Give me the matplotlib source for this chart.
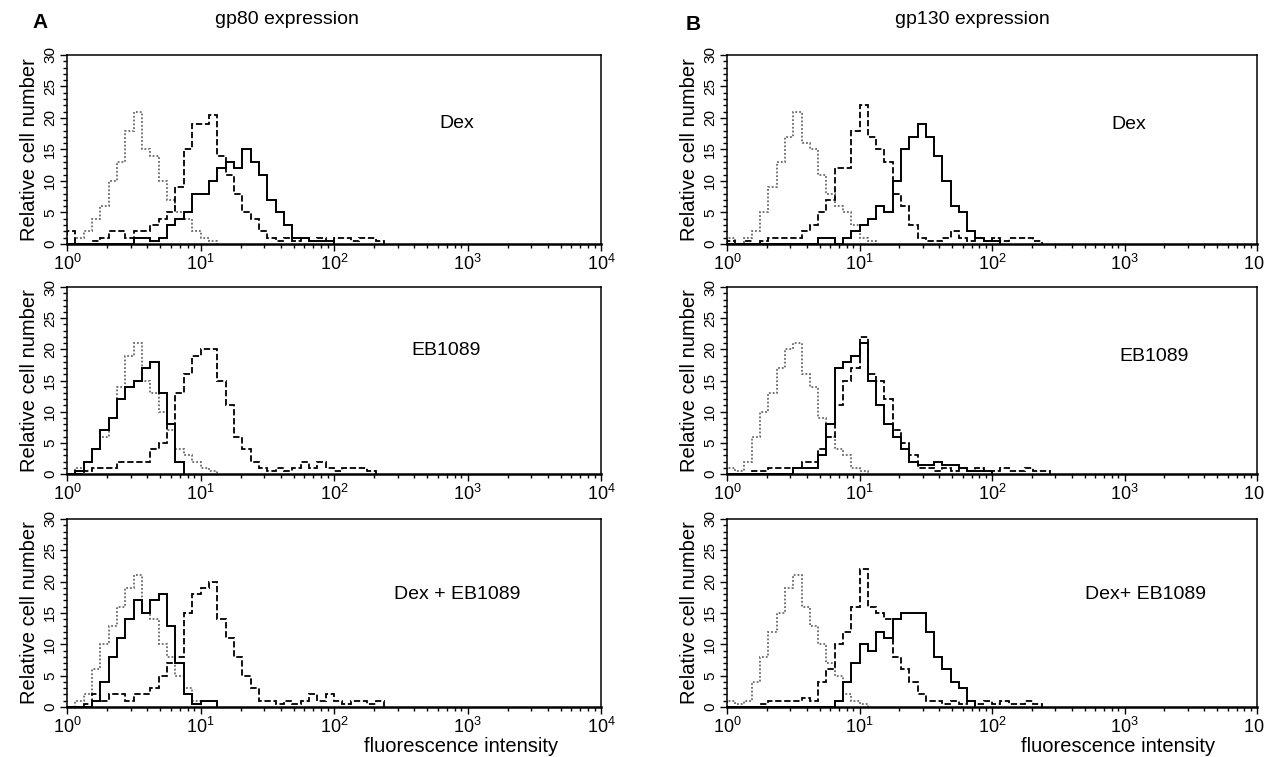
import numpy as np
import matplotlib
matplotlib.use("Agg")
import matplotlib.pyplot as plt
from matplotlib.ticker import LogLocator, MultipleLocator, NullFormatter

plt.rcParams["font.family"] = ["Liberation Sans", "DejaVu Sans"]
plt.rcParams["mathtext.fontset"] = "custom"
plt.rcParams["mathtext.rm"] = "Liberation Sans"

# ---- DATA ----
# Histogram counts per log channel (16 channels per decade, starting at 10^0)
# dotted = isotype control, dashed = untreated, solid = treated

# A: gp80, Dex
gp80_dex_iso = [0, 1, 2, 4, 6, 10, 13, 18, 21, 15, 14, 10, 7, 5, 4, 2, 1, 0.5]
gp80_dex_ctrl = [2, 0, 0, 0.5, 1, 2, 2, 1, 2, 2, 3, 4, 5, 9, 15, 19, 19, 20.5, 14, 11,
                 8, 5, 4, 2, 1, 0.5, 1, 0.5, 1, 0.5, 1, 0.5, 1, 1, 0.5, 1, 1, 0.5]
gp80_dex_trt = [0, 0, 0, 0, 0, 0, 0, 0, 1, 1, 0.5, 1, 3, 4, 5, 8, 8, 10, 12, 13,
                12, 15, 13, 11, 7, 5, 3, 1, 1, 0.5, 0.5, 0.5]

# A: gp80, EB1089
gp80_eb_iso = [0, 1, 2, 4, 6, 9, 14, 19, 21, 15, 13, 10, 7, 4, 3, 2, 1, 0.5]
gp80_eb_ctrl = [0, 0, 0.5, 1, 1, 1, 2, 2, 2, 2, 4, 5, 8, 13, 16, 19, 20, 20, 15, 11,
                6, 4, 2, 1, 0.5, 1, 0.5, 1, 2, 1, 2, 1, 0.5, 1, 1, 1, 0.5]
gp80_eb_trt = [0, 0.5, 2, 4, 7, 9, 12, 14, 15, 17, 18, 13, 8, 2]

# A: gp80, Dex + EB1089
gp80_combo_iso = [0, 1, 2, 6, 10, 13, 16, 19, 21, 15, 14, 10, 8, 5, 3, 1]
gp80_combo_ctrl = [0, 0, 0.5, 2, 1, 2, 2, 1, 2, 2, 3, 5, 7, 8, 15, 18, 19, 20, 14, 11,
                   8, 5, 3, 1, 1, 0.5, 1, 0.5, 1, 2, 1, 2, 1, 0.5, 1, 1, 0.5, 1]
gp80_combo_trt = [0, 0, 0, 1, 4, 8, 11, 14, 17, 15, 17, 18, 13, 7, 2, 0.5, 1, 1]

# B: gp130, Dex
gp130_dex_iso = [1, 0, 1, 2, 5, 9, 13, 17, 21, 16, 15, 11, 8, 6, 5, 3, 1, 0.5]
gp130_dex_ctrl = [0.5, 0, 0.5, 0, 0.5, 1, 1, 1, 1, 2, 3, 5, 7, 12, 12, 18, 22, 17, 15, 13,
                  8, 6, 3, 1, 0.5, 0.5, 1, 2, 1, 0.5, 1, 0.5, 1, 0.5, 1, 1, 1, 0.5]
gp130_dex_trt = [0, 0, 0, 0, 0, 0, 0, 0, 0, 0, 0, 1, 1, 0, 1, 2, 3, 4, 6, 5,
                 10, 15, 17, 19, 17, 14, 10, 6, 5, 2, 1, 0.5, 0.5]

# B: gp130, EB1089
gp130_eb_iso = [1, 0.5, 2, 6, 10, 13, 17, 20, 21, 16, 14, 9, 6, 4, 3, 1, 0.5]
gp130_eb_ctrl = [0, 0, 0, 0.5, 0.5, 1, 1, 1, 1, 2, 2, 4, 6, 11, 15, 17, 22, 16, 15, 12,
                 7, 5, 3, 1, 1, 0.5, 1, 0.5, 1, 0.5, 1, 0.5, 0.5, 1, 0.5, 0.5, 1, 0.5, 0.5]
gp130_eb_trt = [0, 0, 0, 0, 0, 0, 0, 0, 1, 1, 1, 3, 8, 17, 18, 19, 21, 15, 11, 8,
                6, 4, 2, 1.5, 1.5, 2, 1.5, 1.5, 1, 0.5, 0.5, 0.5]

# B: gp130, Dex + EB1089
gp130_combo_iso = [1, 0.5, 1, 4, 8, 12, 15, 19, 21, 16, 13, 10, 7, 5, 2, 1, 0.5]
gp130_combo_ctrl = [0, 0, 0, 0, 0.5, 1, 1, 1, 1, 1.5, 1, 4, 6, 10, 12, 16, 22, 16, 15, 14,
                    8, 6, 4, 2, 1, 1, 0.5, 1, 0.5, 1, 0.5, 1, 0.5, 1, 0.5, 0.5, 1, 0.5]
gp130_combo_trt = [0, 0, 0, 0, 0, 0, 0, 0, 0, 0, 0, 0, 0, 1, 4, 7, 10, 9, 12, 11,
                   14, 15, 15, 15, 12, 8, 6, 4, 3, 1]

CHANNELS_PER_DECADE = 16
row_labels_a = ["Dex", "EB1089", "Dex + EB1089"]
row_labels_b = ["Dex", "EB1089", "Dex+ EB1089"]
# ---------------


def channel_edges(n):
    return 10 ** (np.arange(n + 1) / CHANNELS_PER_DECADE)


def draw_panel(ax, iso, ctrl, trt, label, label_x, label_y, show_xlabel):
    ax.stairs(iso, channel_edges(len(iso)), color="#6a6a6a",
              linestyle=(0, (1, 1.1)), linewidth=1.3)
    ax.stairs(ctrl, channel_edges(len(ctrl)), color="black",
              linestyle=(0, (3.5, 1.5)), linewidth=1.3)
    ax.stairs(trt, channel_edges(len(trt)), color="black",
              linestyle="-", linewidth=1.4)

    ax.set_xscale("log")
    ax.set_xlim(1, 1e4)
    ax.set_ylim(0, 30)
    ax.xaxis.set_major_locator(LogLocator(base=10, numticks=10))
    ax.xaxis.set_minor_locator(LogLocator(base=10, subs=np.arange(2, 10), numticks=50))
    ax.xaxis.set_minor_formatter(NullFormatter())
    ax.yaxis.set_major_locator(MultipleLocator(5))
    ax.yaxis.set_minor_locator(MultipleLocator(1))

    ax.tick_params(which="both", direction="out", width=1.0, colors="black")
    ax.tick_params(which="major", length=5)
    ax.tick_params(which="minor", length=3)
    ax.tick_params(axis="x", labelsize=13, pad=2)
    ax.tick_params(axis="y", labelsize=11, labelrotation=90, pad=2)
    for t in ax.get_yticklabels():
        t.set_va("center")

    for s in ax.spines.values():
        s.set_linewidth(1.1)
    ax.spines["bottom"].set_linewidth(1.8)

    ax.set_ylabel("Relative cell number", fontsize=14.5, labelpad=3)
    ax.text(label_x, label_y, label, transform=ax.transAxes,
            ha="center", va="center", fontsize=14)
    if show_xlabel:
        ax.set_xlabel("fluorescence intensity", fontsize=14.5)
        ax.xaxis.set_label_coords(0.737, -0.16)


fig = plt.figure(figsize=(12.64, 7.57), dpi=100)

col_x = [0.0530, 0.5752]
col_w = [0.4225, 0.4193]
row_y = [0.6777, 0.3738, 0.0661]
row_h = [0.2497, 0.2470, 0.2483]

panels_a = [
    (gp80_dex_iso, gp80_dex_ctrl, gp80_dex_trt),
    (gp80_eb_iso, gp80_eb_ctrl, gp80_eb_trt),
    (gp80_combo_iso, gp80_combo_ctrl, gp80_combo_trt),
]
panels_b = [
    (gp130_dex_iso, gp130_dex_ctrl, gp130_dex_trt),
    (gp130_eb_iso, gp130_eb_ctrl, gp130_eb_trt),
    (gp130_combo_iso, gp130_combo_ctrl, gp130_combo_trt),
]

label_pos_a = [(0.73, 0.64), (0.71, 0.66), (0.73, 0.60)]
label_pos_b = [(0.757, 0.63), (0.806, 0.63), (0.79, 0.60)]

for r in range(3):
    ax = fig.add_axes([col_x[0], row_y[r], col_w[0], row_h[r]])
    iso, ctrl, trt = panels_a[r]
    draw_panel(ax, iso, ctrl, trt, row_labels_a[r], *label_pos_a[r], show_xlabel=(r == 2))

    ax = fig.add_axes([col_x[1], row_y[r], col_w[1], row_h[r]])
    iso, ctrl, trt = panels_b[r]
    draw_panel(ax, iso, ctrl, trt, row_labels_b[r], *label_pos_b[r], show_xlabel=(r == 2))

fig.text(40 / 1264, 1 - 22 / 757, "A", fontsize=15, fontweight="bold", ha="center", va="center")
fig.text(287 / 1264, 1 - 19 / 757, "gp80 expression", fontsize=14, ha="center", va="center")
fig.text(693 / 1264, 1 - 24 / 757, "B", fontsize=15, fontweight="bold", ha="center", va="center")
fig.text(972 / 1264, 1 - 19 / 757, "gp130 expression", fontsize=14, ha="center", va="center")

fig.savefig("out.png", dpi=100)
